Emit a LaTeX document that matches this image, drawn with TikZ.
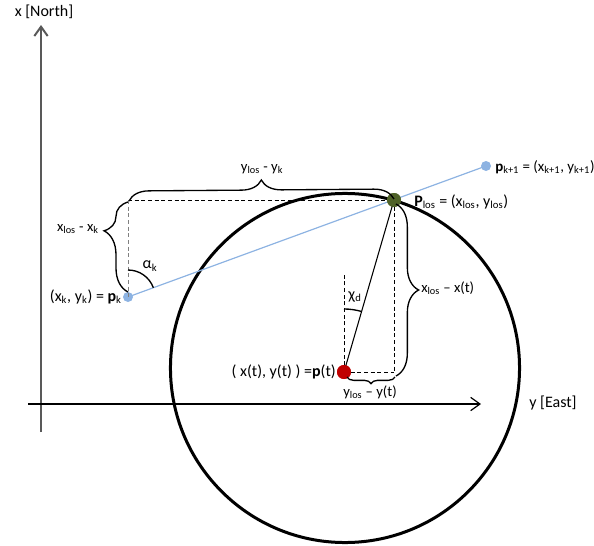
\documentclass[tikz,border=0pt]{standalone}
\usepackage{fontspec}
\setmainfont{Carlito}
\usetikzlibrary{arrows.meta,decorations.pathreplacing,calc}
\definecolor{ptblue}{HTML}{8DB3E2}
\definecolor{losgreen}{HTML}{4F6228}
\definecolor{ptred}{HTML}{C00000}
\definecolor{axisgray}{HTML}{595959}
\begin{document}
\begin{tikzpicture}[x=0.75pt,y=-0.75pt,
  lbl/.style={inner sep=0pt, font=\fontsize{12}{14}\selectfont},
  slbl/.style={inner sep=0pt, font=\fontsize{11}{13}\selectfont},
  dline/.style={dashed, dash pattern=on 3pt off 2pt, line width=0.75pt},
  bracedec/.style={decorate, line width=1pt, decoration={brace, amplitude=#1}},
  axis/.style={-{Straight Barb[length=7pt,width=10pt]}},
  dot/.style={circle, inner sep=0pt, minimum size=#1}]
\useasboundingbox (0,0) rectangle (594,546);

% coordinates
\coordinate (ao) at (41,404);
\coordinate (xtop) at (41,25);
\coordinate (xbot) at (41,432);
\coordinate (yleft) at (28,404);
\coordinate (yright) at (481,404);
\coordinate (cc) at (345,368);
\coordinate (cornerk) at (128,200);
\coordinate (cornert) at (394,372);
\coordinate (chitop) at (344,275);

% circle
\draw[line width=2.25pt] (cc) circle[radius=130.9pt];

% axes
\draw[axis, axisgray, line width=1.5pt] (xbot) -- (xtop);
\draw[axis, line width=0.9pt] (yleft) -- (yright);
\node[lbl, anchor=center] (xlab) at (44,12) {x [North]};
\node[lbl, anchor=west] (ylab) at (529,403) {y [East]};

% points
\node[dot=7.5pt, fill=ptblue] (pk) at (128,297) {};
\node[dot=7.5pt, fill=ptblue] (pk1) at (486,166) {};
\node[dot=10.5pt, fill=ptred] (pt) at (344,372) {};

% line of sight path
\draw[ptblue, line width=0.9pt] (pk.center) -- (pk1.center);

% dashed construction lines
\draw[dline] (cornerk) -- (394,200);
\draw[dline, gray] (cornerk) -- (pk.center);
\draw[dline] (394,200) -- (cornert);
\draw[dline] (pt.center) -- (cornert);
\draw[dline] (pt.center) -- (chitop);

% line from p(t) to Plos
\node[dot=10.5pt, fill=losgreen] (plos) at (394,200) {};
\draw[line width=0.8pt] (pt.center) -- (plos.center);
\node[dot=10.5pt, fill=losgreen] at (plos) {};
\node[dot=10.5pt, fill=ptred] at (pt) {};

% angle arcs
\draw[line width=1pt] ($(pk.center)+(0,-27)$) arc[start angle=90, end angle=20.1, radius=20.25pt];
\node[lbl] (alab) at (150,266) {α\textsubscript{k}};
\draw[line width=1pt] ($(pt.center)+(0,-63)$) arc[start angle=90, end angle=73.8, radius=47.25pt];
\node[lbl] (chilab) at (355,297) {χ\textsubscript{d}};

% braces
\draw[bracedec=15pt] (129,201) -- (394,199);
\node[slbl] (b1) at (262,169) {y\textsubscript{los} - y\textsubscript{k}};
\draw[bracedec=18pt, decoration={aspect=0.68}] (128,292) -- (128,202);
\node[slbl, anchor=east] (b2) at (99,229) {x\textsubscript{los} - x\textsubscript{k}};
\draw[bracedec=17pt] (396,204) -- (396,376);
\node[slbl, anchor=west] (b3) at (421,288) {x\textsubscript{los} – x(t)};
\draw[bracedec=5pt] (395,377) -- (347,377);
\node[slbl] (b4) at (370,392) {y\textsubscript{los} – y(t)};

% point labels
\node[lbl, anchor=east] (pklab) at (122,297) {(x\textsubscript{k}, y\textsubscript{k}) = \textbf{p}\textsubscript{k}};
\node[lbl, anchor=west, font=\fontsize{11.2}{13}\selectfont] (pk1lab) at (495,167) {\textbf{p}\textsubscript{k+1} = (x\textsubscript{k+1}, y\textsubscript{k+1})};
\node[lbl, anchor=west] (ploslab) at (414,202) {\textbf{P}\textsubscript{los} = (x\textsubscript{los}, y\textsubscript{los})};
\node[lbl, anchor=east] (ptlab) at (336,372) {( x(t), y(t) ) =\textbf{p}(t)};
\end{tikzpicture}
\end{document}
